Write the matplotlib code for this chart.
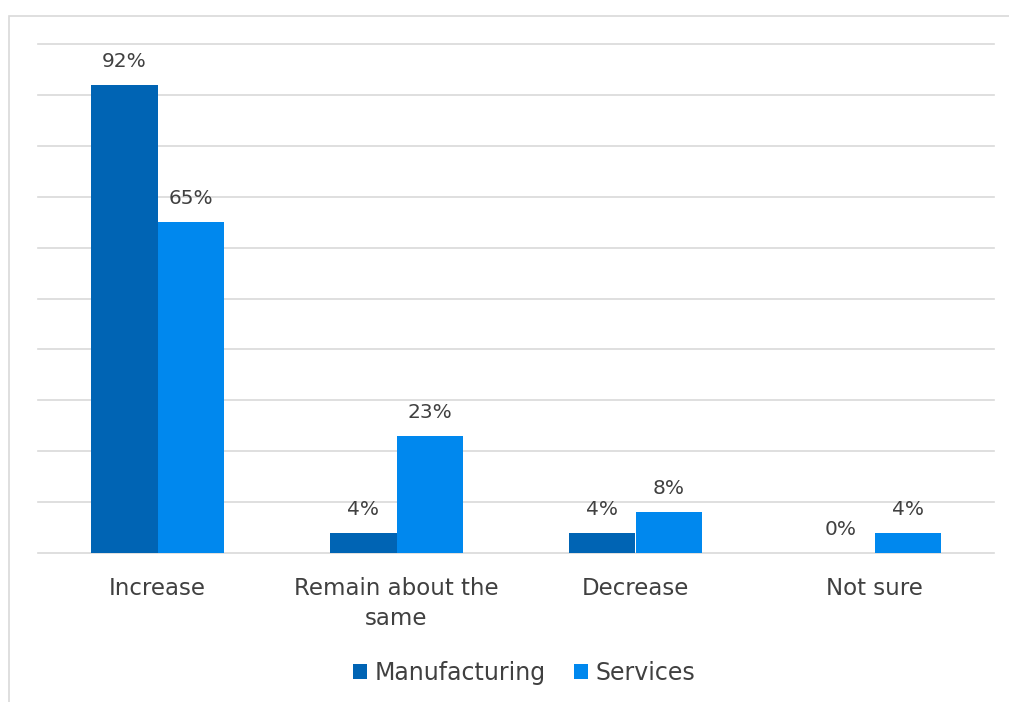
import matplotlib.pyplot as plt
from matplotlib.patches import Rectangle
import numpy as np

categories = ["Increase", "Remain about the\nsame", "Decrease", "Not sure"]
manufacturing = [92, 4, 4, 0]
services = [65, 23, 8, 4]
series_names = ["Manufacturing", "Services"]

col_man = "#0064B4"
col_srv = "#0088EE"
txt = "#404040"
grid = "#D9D9D9"

W, H = 1009, 702
fig = plt.figure(figsize=(W / 100, H / 100), dpi=100)
plt.rcParams["font.family"] = ["DejaVu Sans"]

# outer chart border
fig.patches.append(Rectangle((8.5 / W, -0.05), 1.2, (H - 15.5) / H + 0.05,
                             transform=fig.transFigure, fill=False,
                             edgecolor=grid, linewidth=1.2))

ax = fig.add_axes([38 / W, 149 / H, 956 / W, 509 / H])
x = np.arange(len(categories))
bw = 0.28
b1 = ax.bar(x - bw / 2, manufacturing, bw, color=col_man, label=series_names[0], zorder=3)
b2 = ax.bar(x + bw / 2, services, bw, color=col_srv, label=series_names[1], zorder=3)

for bars, vals in ((b1, manufacturing), (b2, services)):
    for r, v in zip(bars, vals):
        ax.annotate(f"{v}%", (r.get_x() + r.get_width() / 2, v),
                    xytext=(0, 10), textcoords="offset points",
                    ha="center", va="bottom", fontsize=14.5, color=txt)

ax.set_xlim(-0.5, len(categories) - 0.5)
ax.set_ylim(0, 100)
for yv in np.arange(0, 101, 10):
    ax.axhline(yv, color=grid, linewidth=1.2, zorder=0, clip_on=False)
ax.set_yticks([])
ax.tick_params(axis="x", bottom=False, pad=14)
ax.set_xticks(x)
ax.set_xticklabels(categories, fontsize=16.5, color=txt, linespacing=1.35)
for s in ax.spines.values():
    s.set_visible(False)

ax.legend(loc="center", bbox_to_anchor=(524 / W, 29 / H), bbox_transform=fig.transFigure,
          ncol=2, frameon=False, fontsize=17, labelcolor=txt,
          handlelength=0.6, handleheight=0.6, handletextpad=0.3, columnspacing=1.2)

fig.savefig("out.png", dpi=100, facecolor="white")
